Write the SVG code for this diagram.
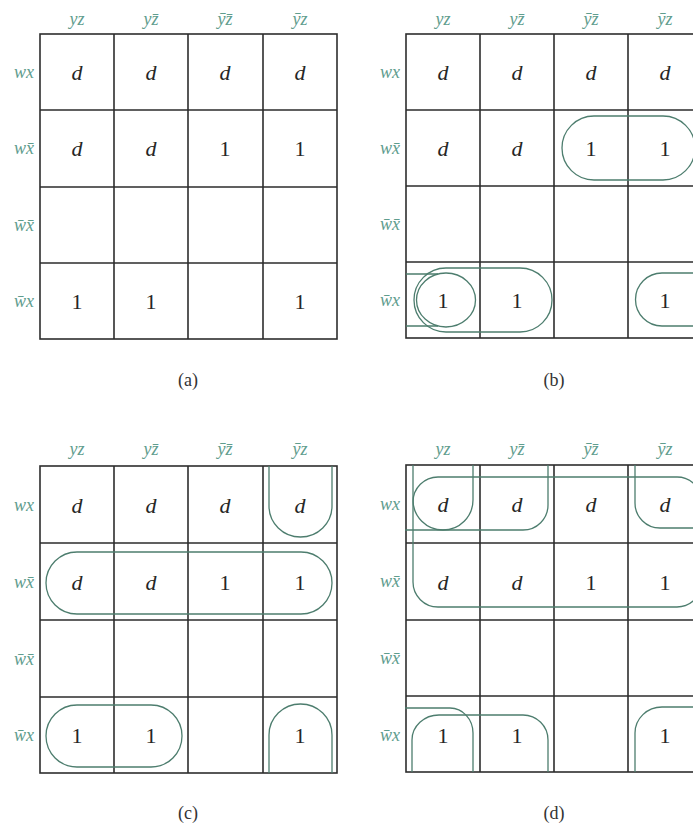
<svg xmlns="http://www.w3.org/2000/svg" width="693" height="826" viewBox="0 0 693 826">
<style>
.bg{fill:#ffffff}
.grid{fill:none;stroke:#2d2d2d;stroke-width:1.6}
.loop{fill:none;stroke:#4d7d6e;stroke-width:1.3}
.lbl{font-family:"Liberation Serif",serif;font-style:italic;font-size:18px;fill:#5f9d8e}
.col{text-anchor:middle}
.row{text-anchor:end}
.val{font-family:"Liberation Serif",serif;font-size:22px;fill:#262626;text-anchor:middle}
.d{font-style:italic}
.cap{font-family:"Liberation Serif",serif;font-size:18px;fill:#333;text-anchor:middle}
</style>
<rect class="bg" x="0" y="0" width="693" height="826"/>

<!-- Map (a) -->
<g id="map-a">
  <g class="grid">
    <rect x="40" y="34" width="297" height="305"/>
    <path d="M114 34V339M188 34V339M263 34V339M40 110H337M40 187H337M40 263H337"/>
  </g>
  <g class="lbl col">
    <text x="77" y="25">yz</text>
    <text x="151" y="25">yz&#x304;</text>
    <text x="225" y="25">y&#x304;z&#x304;</text>
    <text x="300" y="25">y&#x304;z</text>
  </g>
  <g class="lbl row">
    <text x="34" y="78">wx</text>
    <text x="34" y="154">wx&#x304;</text>
    <text x="34" y="231">w&#x304;x&#x304;</text>
    <text x="34" y="307">w&#x304;x</text>
  </g>
  <g class="val">
    <text class="d" x="77" y="80">d</text><text class="d" x="151" y="80">d</text><text class="d" x="225" y="80">d</text><text class="d" x="300" y="80">d</text>
    <text class="d" x="77" y="156">d</text><text class="d" x="151" y="156">d</text><text x="225" y="156">1</text><text x="300" y="156">1</text>
    <text x="77" y="309">1</text><text x="151" y="309">1</text><text x="300" y="309">1</text>
  </g>
  <text class="cap" x="188" y="386">(a)</text>
</g>

<!-- Map (b) -->
<g id="map-b">
  <g class="grid">
    <rect x="406" y="34" width="296" height="304"/>
    <path d="M480 34V338M554 34V338M628 34V338M406 110H702M406 186H702M406 262H702"/>
  </g>
  <g class="lbl col">
    <text x="443" y="25">yz</text>
    <text x="517" y="25">yz&#x304;</text>
    <text x="591" y="25">y&#x304;z&#x304;</text>
    <text x="665" y="25">y&#x304;z</text>
  </g>
  <g class="lbl row">
    <text x="400" y="78">wx</text>
    <text x="400" y="154">wx&#x304;</text>
    <text x="400" y="230">w&#x304;x&#x304;</text>
    <text x="400" y="306">w&#x304;x</text>
  </g>
  <g class="val">
    <text class="d" x="443" y="80">d</text><text class="d" x="517" y="80">d</text><text class="d" x="591" y="80">d</text><text class="d" x="665" y="80">d</text>
    <text class="d" x="443" y="156">d</text><text class="d" x="517" y="156">d</text><text x="591" y="156">1</text><text x="665" y="156">1</text>
    <text x="443" y="308">1</text><text x="517" y="308">1</text><text x="665" y="308">1</text>
  </g>
  <text class="cap" x="554" y="386">(b)</text>
</g>

<!-- Map (c) -->
<g id="map-c">
  <g class="grid">
    <rect x="40" y="466" width="297" height="307"/>
    <path d="M114 466V773M188 466V773M263 466V773M40 543H337M40 620H337M40 697H337"/>
  </g>
  <g class="lbl col">
    <text x="77" y="455">yz</text>
    <text x="151" y="455">yz&#x304;</text>
    <text x="225" y="455">y&#x304;z&#x304;</text>
    <text x="300" y="455">y&#x304;z</text>
  </g>
  <g class="lbl row">
    <text x="34" y="511">wx</text>
    <text x="34" y="588">wx&#x304;</text>
    <text x="34" y="665">w&#x304;x&#x304;</text>
    <text x="34" y="741">w&#x304;x</text>
  </g>
  <g class="val">
    <text class="d" x="77" y="513">d</text><text class="d" x="151" y="513">d</text><text class="d" x="225" y="513">d</text><text class="d" x="300" y="513">d</text>
    <text class="d" x="77" y="590">d</text><text class="d" x="151" y="590">d</text><text x="225" y="590">1</text><text x="300" y="590">1</text>
    <text x="77" y="743">1</text><text x="151" y="743">1</text><text x="300" y="743">1</text>
  </g>
  <text class="cap" x="188" y="819">(c)</text>
</g>

<!-- Map (d) -->
<g id="map-d">
  <g class="grid">
    <rect x="406" y="465" width="296" height="307"/>
    <path d="M480 465V772M554 465V772M628 465V772M406 543H702M406 620H702M406 696H702"/>
  </g>
  <g class="lbl col">
    <text x="443" y="455">yz</text>
    <text x="517" y="455">yz&#x304;</text>
    <text x="591" y="455">y&#x304;z&#x304;</text>
    <text x="665" y="455">y&#x304;z</text>
  </g>
  <g class="lbl row">
    <text x="400" y="510">wx</text>
    <text x="400" y="587">wx&#x304;</text>
    <text x="400" y="664">w&#x304;x&#x304;</text>
    <text x="400" y="741">w&#x304;x</text>
  </g>
  <g class="val">
    <text class="d" x="443" y="512">d</text><text class="d" x="517" y="512">d</text><text class="d" x="591" y="512">d</text><text class="d" x="665" y="512">d</text>
    <text class="d" x="443" y="590">d</text><text class="d" x="517" y="590">d</text><text x="591" y="590">1</text><text x="665" y="590">1</text>
    <text x="443" y="743">1</text><text x="517" y="743">1</text><text x="665" y="743">1</text>
  </g>
  <text class="cap" x="554" y="819">(d)</text>
</g>

<!-- Groupings (loops) -->
<g id="connectors" class="loop">
  <!-- (b) -->
  <rect x="562" y="116" width="133" height="64" rx="32"/>
  <ellipse cx="446" cy="300" rx="29.5" ry="27"/>
  <path d="M406 274H438M406 326H438"/>
  <rect x="414" y="268" width="138" height="64" rx="32"/>
  <path d="M702 273H662A26.5 26.5 0 0 0 662 326H702"/>
  <!-- (c) -->
  <path d="M269 466V506A31.5 31 0 0 0 332 506V466"/>
  <rect x="46" y="552" width="286" height="62" rx="31"/>
  <rect x="46" y="705" width="136" height="62" rx="31"/>
  <path d="M269 773V735A31.5 31 0 0 1 332 735V773"/>
  <!-- (d) -->
  <rect x="413" y="477" width="289" height="130" rx="25"/>
  <path d="M413 465V500A30 30 0 0 0 473 500V465"/>
  <path d="M405 530H523A25 25 0 0 0 548 505V465"/>
  <path d="M702 528H660A25 25 0 0 1 635 503V465"/>
  <path d="M405 708H450A23 25 0 0 1 473 733V772"/>
  <path d="M412 772V740A27 25 0 0 1 439 715H523A25 25 0 0 1 548 740V772"/>
  <path d="M635 772V733A27 26 0 0 1 662 707H702"/>
</g>
</svg>
